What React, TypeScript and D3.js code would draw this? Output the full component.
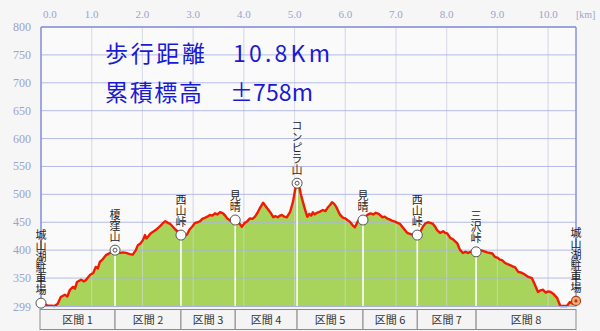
import React from "react";
import * as d3 from "d3";

const profileKm = [0.00,0.06,0.12,0.27,0.33,0.39,0.47,0.52,0.57,0.63,0.67,0.71,0.79,0.85,0.89,0.97,1.03,1.08,1.12,1.16,1.22,1.28,1.36,1.46,1.56,1.62,1.68,1.75,1.81,1.87,1.91,1.96,2.01,2.05,2.08,2.11,2.16,2.21,2.26,2.31,2.36,2.41,2.45,2.50,2.55,2.60,2.65,2.70,2.76,2.82,2.88,2.93,2.98,3.04,3.09,3.14,3.18,3.23,3.28,3.33,3.38,3.43,3.48,3.53,3.59,3.64,3.67,3.73,3.78,3.83,3.88,3.93,3.96,4.02,4.07,4.12,4.17,4.22,4.27,4.32,4.38,4.42,4.46,4.52,4.58,4.62,4.67,4.71,4.75,4.80,4.85,4.91,4.97,5.01,5.05,5.09,5.12,5.16,5.20,5.25,5.29,5.33,5.36,5.40,5.44,5.50,5.56,5.61,5.66,5.70,5.74,5.78,5.82,5.86,5.90,5.96,6.00,6.04,6.09,6.15,6.19,6.25,6.30,6.35,6.40,6.45,6.50,6.55,6.60,6.66,6.73,6.78,6.82,6.87,6.92,6.98,7.03,7.08,7.14,7.22,7.32,7.42,7.48,7.53,7.58,7.63,7.68,7.73,7.78,7.81,7.87,7.93,7.97,8.01,8.07,8.13,8.21,8.26,8.32,8.37,8.42,8.50,8.58,8.64,8.70,8.80,8.90,8.95,9.01,9.05,9.09,9.15,9.20,9.25,9.30,9.35,9.41,9.46,9.51,9.56,9.61,9.68,9.74,9.80,9.85,9.90,9.95,10.00,10.05,10.10,10.18,10.24,10.30,10.37,10.43,10.49,10.55];
const profileElev = [305,304,301,300,304,316,320,317,329,334,331,343,347,344,347,356,359,370,367,379,384,391,395,400,395,396,395,393,392,400,409,412,418,427,421,424,430,433,436,440,444,449,452,449,447,442,437,433,427,425,428,437,442,449,450,452,456,458,460,463,462,466,464,468,466,461,457,453,452,454,450,446,442,449,452,457,456,460,467,476,485,480,475,468,459,461,459,462,463,460,459,468,487,508,520,515,502,488,475,460,465,462,468,464,467,469,472,470,477,481,486,483,478,470,463,458,457,454,451,444,441,452,458,454,460,464,466,464,467,465,459,460,457,455,453,451,449,447,440,431,428,427,433,442,448,450,449,447,441,436,431,434,431,430,422,419,412,401,395,397,395,398,397,400,399,396,394,388,386,383,382,377,375,373,371,369,361,360,358,355,352,350,338,325,328,329,324,326,325,322,314,300,300,300,307,304,309];

const wpNames = ["城山湖駐車場","榎窪山","西山峠","見晴","コンピラ山","見晴","西山峠","三沢峠","城山湖駐車場"];
const wpKm = [0, 1.46, 2.76, 3.83, 5.05, 6.35, 7.42, 8.58, 10.55];
const wpElev = [305, 400, 427, 454, 520, 454, 427, 397, 309];
const wpType = ["start","peak","pass","pass","peak","pass","pass","pass","end"];

const sectionNames = ["区間 1","区間 2","区間 3","区間 4","区間 5","区間 6","区間 7","区間 8"];
const xTicks = [0,1,2,3,4,5,6,7,8,9,10];
const yTicks = [800,750,700,650,600,550,500,450,400,350];
const yBottom = 299;
const titleLines = [["歩行距離","10.8Km"],["累積標高","±758m"]];

export default function App() {
  const W = 600, H = 331;
  const x = d3.scaleLinear().domain([0, 10.55]).range([41, 576]);
  const y = d3.scaleLinear().domain([yBottom, 800]).range([306.5, 27]);
  const pts = profileKm.map((k, i) => ({ k, e: profileElev[i] }));
  const area = d3.area<any>().x(d => x(d.k)).y0(y(yBottom)).y1(d => y(d.e))(pts) || "";
  const line = d3.line<any>().x(d => x(d.k)).y(d => y(d.e))(pts) || "";
  const x0 = x(0), x1 = x(10.55), yT = y(800), yB = y(yBottom);
  const axisFont = "'Liberation Serif', serif";
  const jp = "'Noto Sans CJK JP', sans-serif";

  return (
    <svg width={W} height={H} style={{ position: "absolute", left: 0, top: 0, display: "block" }}>
      <rect x={0} y={0} width={W} height={H} fill="#f6f6f6" />
      <rect x={x0} y={yT} width={x1 - x0} height={yB - yT} fill="#fafafb" />
      {xTicks.map(t => (
        <line key={"vg" + t} x1={x(t)} x2={x(t)} y1={yT} y2={yB} stroke="#dcdcea" strokeWidth={1} />
      ))}
      <path d={area} fill="#a8d45c" />
      {xTicks.map(t => (
        <line key={"vg2" + t} x1={x(t)} x2={x(t)} y1={yT} y2={yB} stroke="#d8dcea" strokeOpacity={0.55} strokeWidth={1} />
      ))}
      {yTicks.map(t => (
        <line key={"hg" + t} x1={x0} x2={x1} y1={y(t)} y2={y(t)} stroke="#a9b0e6" strokeOpacity={0.85} strokeWidth={1} />
      ))}
      {wpKm.map((k, i) => (wpType[i] === "peak" || wpType[i] === "pass") ? (
        <line key={"dl" + i} x1={x(k)} x2={x(k)} y1={y(wpElev[i])} y2={yB} stroke="#ffffff" strokeWidth={1.6} />
      ) : null)}
      <path d={line} fill="none" stroke="#f21a00" strokeWidth={2.4} strokeLinejoin="round" />
      <line x1={x0} x2={x1} y1={yT} y2={yT} stroke="#8a90dc" strokeWidth={1.5} />
      <line x1={x0} x2={x0} y1={yT} y2={yB} stroke="#8a90dc" strokeWidth={1.5} />
      <line x1={x1} x2={x1} y1={yT} y2={yB} stroke="#8a90dc" strokeWidth={1.5} />
      <line x1={x0} x2={x1} y1={yB} y2={yB} stroke="#a9b0e6" strokeWidth={1} />
      {wpKm.map((k, i) => {
        const cx = x(k), cy = y(wpElev[i]);
        if (wpType[i] === "end") {
          return (
            <g key={"m" + i}>
              <circle cx={cx} cy={cy} r={4.5} fill="#f0b070" stroke="#b04020" strokeWidth={1.2} />
              <circle cx={cx} cy={cy} r={1.6} fill="#c03020" />
            </g>
          );
        }
        return (
          <g key={"m" + i}>
            <circle cx={cx} cy={cy} r={5} fill="#ffffff" stroke="#555" strokeWidth={1} />
            {wpType[i] === "peak" ? <circle cx={cx} cy={cy} r={2} fill="none" stroke="#555" strokeWidth={1} /> : null}
          </g>
        );
      })}
      {wpNames.map((name, i) => (
        <text key={"lb" + i} x={x(wpKm[i])} y={y(wpElev[i]) - 8} textAnchor="end"
          fontFamily={jp} fontSize={11} fill="#222"
          style={{ writingMode: "vertical-rl", textOrientation: "upright" } as any}>{name}</text>
      ))}
      {titleLines.map((ln, i) => (
        <g key={"t" + i}>
          <text x={105} y={62 + i * 39} fontFamily={jp} fontSize={23} fill="#1a1ad2" textLength={i === 0 ? 100 : 97} lengthAdjust="spacing">{ln[0]}</text>
          <text x={i === 0 ? 233 : 230} y={62 + i * 39} fontFamily={jp} fontSize={23} fill="#1a1ad2" textLength={i === 0 ? 97 : 83} lengthAdjust="spacing">{ln[1]}</text>
        </g>
      ))}
      {xTicks.map(t => (
        <text key={"xl" + t} x={t === 0 ? x(t) + 2 : x(t)} y={18} textAnchor={t === 0 ? "start" : "middle"}
          fontFamily={axisFont} fontSize={11} fill="#9ba3cc">{t.toFixed(1)}</text>
      ))}
      <text x={576} y={18} fontFamily={axisFont} fontSize={10} fill="#9ba3cc">[km]</text>
      {yTicks.map(t => (
        <text key={"yl" + t} x={31} y={y(t) + 4} textAnchor="end" fontFamily={axisFont} fontSize={12} fill="#9ba3cc">{t}</text>
      ))}
      <text x={31} y={yB + 4} textAnchor="end" fontFamily={axisFont} fontSize={12} fill="#9ba3cc">{yBottom}</text>
      {sectionNames.map((s, i) => {
        const a = x(wpKm[i]) - (i === 0 ? 1 : 0), b = x(wpKm[i + 1]);
        return (
          <g key={"s" + i}>
            <rect x={a} y={309.5} width={b - a} height={20} fill="#f4f4f4" stroke="#8c8c8c" strokeWidth={1} />
            <text x={(a + b) / 2} y={324} textAnchor="middle" fontFamily={jp} fontSize={11} fill="#333">{s}</text>
          </g>
        );
      })}
    </svg>
  );
}
